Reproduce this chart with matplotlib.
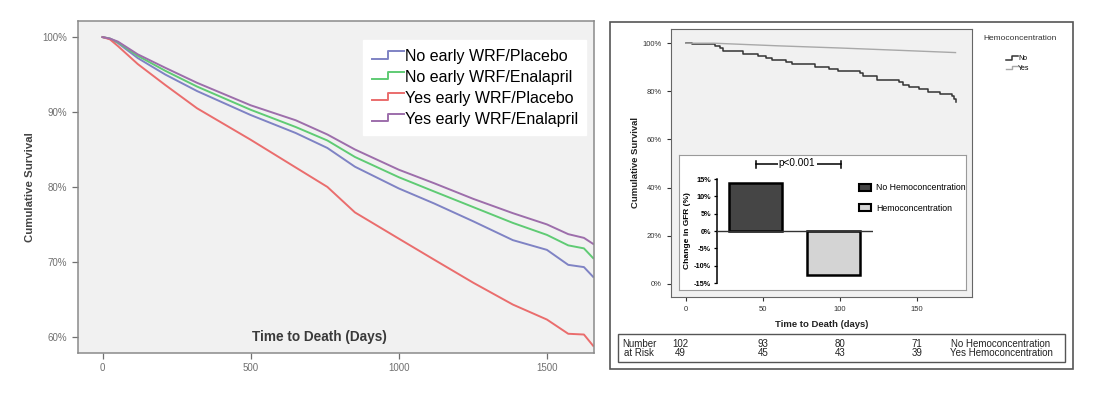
import numpy as np
import matplotlib
matplotlib.use('Agg')
import matplotlib.pyplot as plt
from matplotlib.lines import Line2D
from matplotlib.patches import Patch, Rectangle
from matplotlib.legend_handler import HandlerBase
from matplotlib.transforms import blended_transform_factory

plt.rcParams['font.family'] = ['Liberation Sans', 'DejaVu Sans']

W, H = 1093, 397

## ----------------------------- Data -------------------------------------- ##
# Left panel: KM curves, early WRF x treatment (days, % surviving)
left_days = [0, 25, 52, 119, 212, 319, 500, 652, 759, 852, 1000, 1119, 1252, 1385, 1500, 1572, 1625, 1656]
no_wrf_placebo = [100, 99.8, 99.2, 97.2, 95.0, 92.8, 89.6, 87.2, 85.2, 82.7, 79.8, 77.8, 75.4, 72.9, 71.6, 69.6, 69.3, 68.0]
no_wrf_enalapril = [100, 99.8, 99.3, 97.5, 95.5, 93.4, 90.3, 88.0, 86.2, 84.0, 81.3, 79.4, 77.3, 75.2, 73.6, 72.2, 71.8, 70.5]
yes_wrf_placebo = [100, 99.7, 98.8, 96.4, 93.6, 90.5, 86.3, 82.6, 80.0, 76.6, 73.1, 70.3, 67.2, 64.3, 62.3, 60.4, 60.3, 58.8]
yes_wrf_enalapril = [100, 99.8, 99.4, 97.7, 95.9, 93.9, 90.9, 88.9, 87.0, 85.0, 82.3, 80.5, 78.4, 76.5, 75.0, 73.7, 73.2, 72.4]
left_labels = ['No early WRF/Placebo', 'No early WRF/Enalapril',
               'Yes early WRF/Placebo', 'Yes early WRF/Enalapril']
left_colors = ['#7f83c4', '#5fcb74', '#ea6d6d', '#9d6eab']
left_yticks = [60, 70, 80, 90, 100]
left_xticks = [0, 500, 1000, 1500]

# Right panel: KM by hemoconcentration
hemo_no_days = [0, 4, 19, 22, 24, 37, 47, 52, 56, 65, 69, 84, 93, 99, 113, 115, 124,
                138, 141, 145, 151, 157, 165, 172.5, 174, 175]
hemo_no_surv = [100, 99.6, 98.9, 97.9, 96.9, 95.5, 94.7, 93.8, 93.1, 92.1, 91.3, 90.3,
                89.3, 88.4, 87.5, 86.5, 84.7, 83.8, 82.7, 81.7, 80.9, 79.7, 78.9, 78.1, 76.8, 75.6]
hemo_yes_days = [0, 18, 60, 100, 140, 175]
hemo_yes_surv = [100, 100, 98.9, 98.0, 97.0, 96.1]
right_yticks = [0, 20, 40, 60, 80, 100]
right_xticks = [0, 50, 100, 150]

# Inset bar chart: change in GFR
gfr_groups = ['No Hemoconcentration', 'Hemoconcentration']
gfr_change = [13.8, -12.7]
gfr_colors = ['#454545', '#d4d4d4']
gfr_yticks = [-15, -10, -5, 0, 5, 10, 15]

# Number at risk table
risk_days = [0, 50, 100, 150]
risk_no = [102, 93, 80, 71]
risk_yes = [49, 45, 43, 39]


def px_rect(x0, y0, x1, y1):
    return [x0 / W, 1 - y1 / H, (x1 - x0) / W, (y1 - y0) / H]


class StepHandler(HandlerBase):
    # SPSS-like little step glyph for legend entries
    def create_artists(self, legend, orig_handle, xdescent, ydescent, width, height, fontsize, trans):
        xs = [-xdescent, -xdescent + width * 0.5, -xdescent + width * 0.5, -xdescent + width]
        ys = [height * 0.2 - ydescent, height * 0.2 - ydescent, height * 0.85 - ydescent, height * 0.85 - ydescent]
        ln = Line2D(xs, ys, color=orig_handle.get_color(), lw=orig_handle.get_linewidth(), transform=trans)
        return [ln]


fig = plt.figure(figsize=(W / 100, H / 100), dpi=100)

## --------------------------- Left panel ---------------------------------- ##
ax1 = fig.add_axes(px_rect(77.5, 21, 594, 352.5))
ax1.set_facecolor('#f1f1f1')
series = [no_wrf_placebo, no_wrf_enalapril, yes_wrf_placebo, yes_wrf_enalapril]
handles = []
for vals, lab, col in zip(series, left_labels, left_colors):
    h, = ax1.plot(left_days, vals, color=col, lw=1.4, label=lab)
    handles.append(h)
ax1.set_xlim(-84.5, 1659)
ax1.set_ylim(57.9, 102.15)
ax1.set_yticks(left_yticks)
ax1.set_yticklabels([f'{v}%' for v in left_yticks])
ax1.set_xticks(left_xticks)
ax1.tick_params(labelsize=7, colors='#707070', length=4, width=0.9)
for s in ax1.spines.values():
    s.set_color('#8a8a8a')
    s.set_linewidth(1.1)
ax1.set_ylabel('Cumulative Survival', fontsize=8.2, fontweight='bold', color='#444444', labelpad=5)
ax1.text(0.468, 0.048, 'Time to Death (Days)', transform=ax1.transAxes, ha='center', va='center',
         fontsize=9.8, fontweight='bold', color='#3a3a3a')
leg = ax1.legend(handles=handles, loc='upper left', bbox_to_anchor=(363 / W, 1 - 40 / H),
                 bbox_transform=fig.transFigure, fontsize=11.5, frameon=True, fancybox=False,
                 edgecolor='white', framealpha=1, handlelength=2.0, handletextpad=0.05,
                 labelspacing=0.37, borderpad=0.55, borderaxespad=0,
                 handler_map={Line2D: StepHandler()})

## --------------------------- Right panel --------------------------------- ##
fig.patches.append(Rectangle((610 / W, 1 - 369 / H), (1073 - 610) / W, (369 - 22) / H,
                             transform=fig.transFigure, fill=False, edgecolor='#555555', lw=1.2))

ax2 = fig.add_axes(px_rect(671, 29, 972, 297))
ax2.set_facecolor('#f1f1f1')
h_no, = ax2.step(hemo_no_days, hemo_no_surv, where='post', color='#333333', lw=1.1, label='No')
h_yes, = ax2.plot(hemo_yes_days, hemo_yes_surv, color='#a8a8a8', lw=1.0, label='Yes')
ax2.set_xlim(-9.7, 185.7)
ax2.set_ylim(-5.5, 105.9)
ax2.set_yticks(right_yticks)
ax2.set_yticklabels([f'{v}%' for v in right_yticks])
ax2.set_xticks(right_xticks)
ax2.tick_params(labelsize=5.5, colors='#333333', length=3, width=0.8)
for s in ax2.spines.values():
    s.set_color('#666666')
ax2.set_ylabel('Cumulative Survival', fontsize=6.8, fontweight='bold', color='#222222', labelpad=2)
ax2.set_xlabel('Time to Death (days)', fontsize=6.8, fontweight='bold', color='#222222', labelpad=5)

fig.text(983 / W, 1 - 39 / H, 'Hemoconcentration', fontsize=6, color='#333333', va='center')
fig.legend(handles=[h_no, h_yes], loc='upper left', bbox_to_anchor=(1003 / W, 1 - 52 / H),
           fontsize=5, frameon=False, handlelength=1.6, handletextpad=0.1, labelspacing=0.4,
           borderpad=0, handler_map={Line2D: StepHandler()})

## ------------------------- Inset bar chart ------------------------------- ##
ax_box = fig.add_axes(px_rect(679, 155, 966, 290))
ax_box.set_facecolor('white')
ax_box.set_xticks([])
ax_box.set_yticks([])
for s in ax_box.spines.values():
    s.set_color('#9a9a9a')

ax3 = fig.add_axes(px_rect(716.7, 179, 873, 283))
ax3.patch.set_alpha(0)
xpos = np.arange(len(gfr_change))
bars = ax3.bar(xpos, gfr_change, width=0.68, color=gfr_colors, edgecolor='black', lw=1.8, zorder=3)
ax3.axhline(0, color='#333333', lw=1.0, zorder=4)
ax3.set_xlim(-0.5, 1.5)
ax3.set_ylim(-15, 15)
ax3.set_yticks(gfr_yticks)
ax3.set_yticklabels([f'{v}%' for v in gfr_yticks])
ax3.set_xticks([])
ax3.tick_params(axis='y', labelsize=5.3, length=2.5, width=0.9, pad=1.5)
for lab in ax3.get_yticklabels():
    lab.set_fontweight('bold')
for side in ['top', 'right', 'bottom']:
    ax3.spines[side].set_visible(False)
ax3.spines['left'].set_linewidth(1.1)
ax3.set_ylabel('Change in GFR (%)', fontsize=6, fontweight='bold', labelpad=2)

# significance bracket
yb = 19.2
ax3.plot([0, 1.09], [yb, yb], color='black', lw=1.1, clip_on=False)
for xb in [0, 1.09]:
    ax3.plot([xb, xb], [yb - 1.1, yb + 1.1], color='black', lw=1.1, clip_on=False)
ax3.text(0.53, yb + 0.4, 'p<0.001', ha='center', va='center', fontsize=7.2,
         bbox=dict(facecolor='white', edgecolor='none', pad=0.8), clip_on=False)

ax3.legend(handles=[Patch(facecolor=c, edgecolor='black', lw=1.5) for c in gfr_colors],
           labels=gfr_groups, loc='upper left', bbox_to_anchor=(855 / W, 1 - 179 / H),
           bbox_transform=fig.transFigure, fontsize=6.3, frameon=False, handlelength=1.3,
           handleheight=0.8, handletextpad=0.6, labelspacing=1.3, borderpad=0)

## -------------------------- Number at risk ------------------------------- ##
fig.patches.append(Rectangle((617.7 / W, 1 - 361.7 / H), (1065 - 617.7) / W, (361.7 - 334) / H,
                             transform=fig.transFigure, fill=False, edgecolor='#555555', lw=1.0))
tr = blended_transform_factory(ax2.transData, fig.transFigure)
fig.text(639 / W, 1 - 344 / H, 'Number', fontsize=7, ha='center', va='center', color='#222222')
fig.text(639 / W, 1 - 352.7 / H, 'at Risk', fontsize=7, ha='center', va='center', color='#222222')
for i, d in enumerate(risk_days):
    dx = -6 if i == 0 else 0
    fig.text(d + dx * 0.65, 1 - 344 / H, str(risk_no[i]), transform=tr, fontsize=7,
             ha='center', va='center', color='#222222')
    fig.text(d + dx * 0.65, 1 - 352.7 / H, str(risk_yes[i]), transform=tr, fontsize=7,
             ha='center', va='center', color='#222222')
fig.text(1001 / W, 1 - 344 / H, 'No Hemoconcentration', fontsize=7, ha='center', va='center', color='#222222')
fig.text(1001 / W, 1 - 352.7 / H, 'Yes Hemoconcentration', fontsize=7, ha='center', va='center', color='#222222')

fig.savefig('out.png', dpi=100)
